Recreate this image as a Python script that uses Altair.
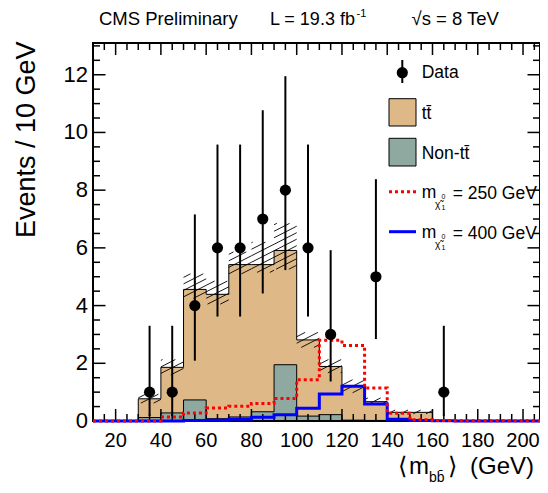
import math
import altair as alt
import numpy as np
import pandas as pd

# ---------------- data ----------------
bin_lo = [10, 20, 30, 40, 50, 60, 70, 80, 90, 100, 110, 120, 130, 140, 150, 160, 170, 180, 190, 200]
ttbar = [0, 0, 0.77, 1.86, 4.56, 4.39, 5.42, 5.42, 5.91, 2.81, 1.89, 1.20, 0.67, 0.30, 0.30, 0.02, 0.01, 0, 0, 0]
non_tt = [0, 0, 0.12, 0.28, 0.73, 0.08, 0.14, 0.32, 1.95, 0.17, 0.22, 0.03, 0.02, 0.01, 0.01, 0, 0, 0, 0, 0]
sig_250 = [0, 0, 0, 0.14, 0.28, 0.45, 0.51, 0.61, 0.78, 1.43, 2.80, 2.62, 1.14, 0.27, 0.04, 0.02, 0.01, 0.01, 0.01, 0.01]
sig_400 = [0, 0, 0, 0, 0.02, 0.03, 0.06, 0.13, 0.22, 0.44, 0.94, 1.20, 0.59, 0.06, 0.02, 0.01, 0, 0, 0, 0]
band_lo = [None, None, 0.62, 1.60, 4.25, 4.05, 5.10, 5.15, 5.26, 2.55, 1.67, 0.98, 0.56, 0.25, 0.25, None, None, None, None, None]
band_hi = [None, None, 0.93, 2.13, 5.10, 4.85, 5.86, 6.20, 6.85, 3.07, 2.13, 1.43, 0.80, 0.38, 0.38, None, None, None, None, None]

data_x = [35, 45, 55, 65, 75, 85, 95, 105, 115, 135, 165]
data_n = [1, 1, 4, 6, 6, 7, 8, 6, 3, 5, 1]
data_lo = [0.17, 0.17, 2.09, 3.62, 3.62, 4.42, 5.23, 3.62, 1.37, 2.84, 0.17]
data_hi = [3.30, 3.30, 7.16, 9.58, 9.58, 10.77, 11.95, 9.58, 5.92, 8.38, 3.30]

x_major = [20, 40, 60, 80, 100, 120, 140, 160, 180, 200]
y_major = [0, 2, 4, 6, 8, 10, 12]

# ---------------- layout ----------------
W, H = 447, 378
XMIN, XMAX, YMAX = 10, 207.5, 13.1
FONT = "Liberation Sans"
TAN = "#DEB887"
GREY = "#8FA8A0"

xs = alt.Scale(domain=[XMIN, XMAX], nice=False, zero=False)
ys = alt.Scale(domain=[0, YMAX], nice=False, zero=False)
pxx = W / (XMAX - XMIN)
pxy = H / YMAX

X = lambda f: alt.X(f, type="quantitative", scale=xs, axis=None)
Y = lambda f: alt.Y(f, type="quantitative", scale=ys, axis=None)

edges = bin_lo + [210]
step = pd.DataFrame({
    "x": edges,
    "tt": ttbar + [ttbar[-1]],
    "non": non_tt + [non_tt[-1]],
    "s250": sig_250 + [sig_250[-1]],
    "s400": sig_400 + [sig_400[-1]],
})

layers = []
# ttbar (stack total)
layers.append(alt.Chart(step).mark_area(interpolate="step-after", color=TAN, opacity=1).encode(
    x=X("x"), y=Y("tt")))
layers.append(alt.Chart(step).mark_line(interpolate="step-after", color="black", strokeWidth=1).encode(
    x=X("x"), y=Y("tt")))
# non-ttbar
layers.append(alt.Chart(step).mark_area(interpolate="step-after", color=GREY, opacity=1).encode(
    x=X("x"), y=Y("non")))
layers.append(alt.Chart(step).mark_line(interpolate="step-after", color="black", strokeWidth=1).encode(
    x=X("x"), y=Y("non")))

# hatched uncertainty band, built from band_lo / band_hi
slope = math.tan(math.radians(27))
spacing = 6.5
segs = []
for lo_edge, lo, hi in zip(bin_lo, band_lo, band_hi):
    if lo is None:
        continue
    x0 = (lo_edge - XMIN) * pxx
    x1 = x0 + 10 * pxx
    yb, yt = lo * pxy, hi * pxy
    kmin = math.floor((yb - slope * x1) / spacing)
    kmax = math.ceil((yt - slope * x0) / spacing)
    for k in range(kmin, kmax + 1):
        c = k * spacing
        xa = max(x0, (yb - c) / slope)
        xb = min(x1, (yt - c) / slope)
        if xb - xa > 0.5:
            segs.append({"x": XMIN + xa / pxx, "x2": XMIN + xb / pxx,
                         "y": (slope * xa + c) / pxy, "y2": (slope * xb + c) / pxy})
hatch = pd.DataFrame(segs)
layers.append(alt.Chart(hatch).mark_rule(color="black", strokeWidth=0.9).encode(
    x=X("x"), x2="x2", y=Y("y"), y2="y2"))

# frame
frame = pd.DataFrame({"x0": [XMIN], "x1": [XMAX], "y0": [0], "y1": [YMAX]})
layers.append(alt.Chart(frame).mark_rect(fillOpacity=0, stroke="black", strokeWidth=2).encode(
    x=X("x0"), x2="x1", y=Y("y0"), y2="y1"))

# inward ticks on all four sides
x_minor = [v for v in range(15, 208, 5) if v not in x_major]
y_minor = [v / 2 for v in range(1, 27) if (v / 2) not in y_major]


def xticks(vals, length):
    n = len(vals)
    ly = length / pxy
    d = pd.DataFrame({"v": vals, "a": [0] * n, "b": [ly] * n, "c": [YMAX] * n, "d": [YMAX - ly] * n})
    bot = alt.Chart(d).mark_rule(color="black", strokeWidth=1.5).encode(x=X("v"), y=Y("a"), y2="b")
    top = alt.Chart(d).mark_rule(color="black", strokeWidth=1.5).encode(x=X("v"), y=Y("c"), y2="d")
    return [bot, top]


def yticks(vals, length):
    n = len(vals)
    lx = length / pxx
    d = pd.DataFrame({"v": vals, "a": [XMIN] * n, "b": [XMIN + lx] * n, "c": [XMAX] * n, "d": [XMAX - lx] * n})
    left = alt.Chart(d).mark_rule(color="black", strokeWidth=1.5).encode(y=Y("v"), x=X("a"), x2="b")
    right = alt.Chart(d).mark_rule(color="black", strokeWidth=1.5).encode(y=Y("v"), x=X("c"), x2="d")
    return [left, right]


layers += xticks(x_major, 12) + xticks(x_minor, 7)
layers += yticks([v for v in y_major if v > 0], 12.5) + yticks(y_minor, 7)

# tick labels
xl = pd.DataFrame({"v": x_major, "y0": [0] * len(x_major), "t": [str(v) for v in x_major]})
layers.append(alt.Chart(xl).mark_text(font=FONT, fontSize=20, align="center", baseline="alphabetic",
                                      dy=26, color="black").encode(x=X("v"), y=Y("y0"), text="t:N"))
yl_ = pd.DataFrame({"v": y_major, "x0": [XMIN] * len(y_major), "t": [str(v) for v in y_major]})
layers.append(alt.Chart(yl_).mark_text(font=FONT, fontSize=22, align="right", baseline="middle",
                                       dx=-5, color="black").encode(x=X("x0"), y=Y("v"), text="t:N"))

# signals
layers.append(alt.Chart(step).mark_line(interpolate="step-after", color="#0000FF", strokeWidth=3).encode(
    x=X("x"), y=Y("s400")))
layers.append(alt.Chart(step).mark_line(interpolate="step-after", color="#FF0000", strokeWidth=3,
                                        strokeDash=[3, 3]).encode(x=X("x"), y=Y("s250")))

# data
dd = pd.DataFrame({"x": data_x, "n": data_n, "lo": data_lo, "hi": data_hi})
layers.append(alt.Chart(dd).mark_rule(color="black", strokeWidth=2).encode(x=X("x"), y=Y("lo"), y2="hi"))
layers.append(alt.Chart(dd).mark_circle(color="black", size=125, opacity=1).encode(x=X("x"), y=Y("n")))

one = pd.DataFrame({"a": [0]})


def txt(t, x, y, size, align="left", baseline="middle", angle=0):
    kw = dict(text=t, font=FONT, fontSize=size, align=align, baseline=baseline, color="black")
    if angle:
        kw["angle"] = angle
    return alt.Chart(one).mark_text(**kw).encode(x=alt.value(x), y=alt.value(y))


# legend
LX0, LX1 = 296, 323
layers.append(alt.Chart(one).mark_rule(color="black", strokeWidth=2).encode(
    x=alt.value(309.3), y=alt.value(17), y2=alt.value(40)))
layers.append(alt.Chart(one).mark_circle(color="black", size=125, opacity=1).encode(
    x=alt.value(309.3), y=alt.value(29.7)))
layers.append(txt("Data", 328.7, 30, 17.5))
layers.append(alt.Chart(one).mark_rect(fill=TAN, stroke="black", strokeWidth=1).encode(
    x=alt.value(LX0), x2=alt.value(LX1), y=alt.value(55.7), y2=alt.value(83)))
layers.append(txt("tt\u0304", 328.7, 71, 17.5))
layers.append(alt.Chart(one).mark_rect(fill=GREY, stroke="black", strokeWidth=1).encode(
    x=alt.value(LX0), x2=alt.value(LX1), y=alt.value(95.3), y2=alt.value(123)))
layers.append(txt("Non-tt\u0304", 328.7, 111, 17.5))
for yl, col, dash, label in [(148.7, "#FF0000", [3, 3], "= 250 GeV"), (188.7, "#0000FF", None, "= 400 GeV")]:
    mk = dict(color=col, strokeWidth=3)
    if dash:
        mk["strokeDash"] = dash
    layers.append(alt.Chart(one).mark_rule(**mk).encode(
        x=alt.value(LX0), x2=alt.value(LX1), y=alt.value(yl)))
    layers.append(txt("m", 328.7, yl + 1.5, 17.5))
    layers.append(txt("\u03c7\u0303", 342, yl + 13, 10))
    layers.append(txt("0", 348.5, yl + 5.5, 7))
    layers.append(txt("1", 348.5, yl + 16, 7))
    layers.append(txt(label, 359.7, yl + 2, 17.5))

# header
layers.append(txt("CMS Preliminary", 6, -18, 18.5, baseline="alphabetic"))
layers.append(txt("L = 19.3 fb", 177, -18, 18, baseline="alphabetic"))
layers.append(txt("-1", 263.5, -26, 11, baseline="alphabetic"))
layers.append(txt("\u221as = 8 TeV", 318.5, -18, 18.5, baseline="alphabetic"))

# axis titles
layers.append(txt("Events / 10 GeV", -58, -1.5, 27, align="right", baseline="alphabetic", angle=270))
layers.append(txt("\u27e8", 305, 431, 24, baseline="alphabetic"))
layers.append(txt("m", 316, 431, 24, baseline="alphabetic"))
layers.append(txt("bb\u0304", 336, 439, 14, baseline="alphabetic"))
layers.append(txt("\u27e9", 355, 431, 24, baseline="alphabetic"))
layers.append(txt("(GeV)", 377, 431, 24, baseline="alphabetic"))

chart = alt.layer(*layers).properties(
    width=W, height=H,
    autosize=alt.AutoSizeParams(type="none"),
    padding={"left": 85, "top": 35, "right": 0, "bottom": 64},
).configure_view(strokeWidth=0)

chart.save("out.html", embed_options={"renderer": "svg", "actions": False})
